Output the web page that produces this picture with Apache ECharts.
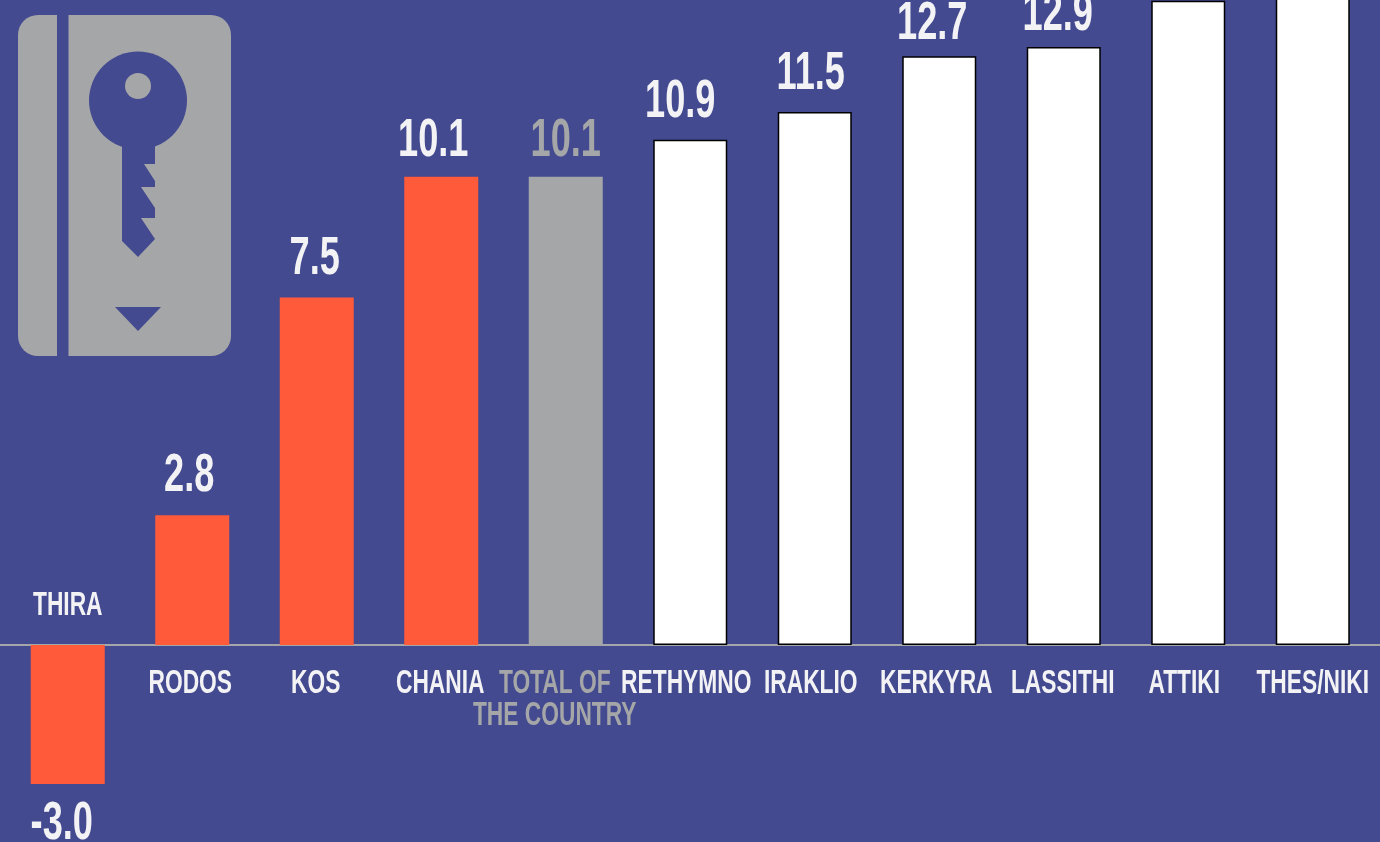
<!DOCTYPE html>
<html>
<head>
<meta charset="utf-8">
<style>
  html, body { margin: 0; padding: 0; background: #434A8F; }
  #chart { width: 1380px; height: 842px; }
</style>
<script src="https://cdn.jsdelivr.net/npm/echarts@6/dist/echarts.min.js"></script>
</head>
<body>
<div id="chart"></div>
<script>
const categories = ['THIRA', 'RODOS', 'KOS', 'CHANIA', 'TOTAL OF\nTHE COUNTRY', 'RETHYMNO', 'IRAKLIO', 'KERKYRA', 'LASSITHI', 'ATTIKI', 'THES/NIKI']
const values = [-3.0, 2.8, 7.5, 10.1, 10.1, 10.9, 11.5, 12.7, 12.9, 13.9, 14.6]
const islands = ['THIRA', 'RODOS', 'KOS', 'CHANIA']
const countryTotal = 'TOTAL OF\nTHE COUNTRY'

const BG = '#434A8F'
const ORANGE = '#FF5A3A'
const GRAY = '#A5A6A8'
const LABEL_WHITE = '#F3F3F6'
const FONT = '"Liberation Sans", Arial, sans-serif'
// the source labels sit a little off the bar centres
const NAME_SHIFT = [0, -2, -1, -1, -11, -4, -4, -3, -1, -4, 0]
const VALUE_SHIFT = [-6, -3, -2, -8, 0, -10, -4, -7, -6, 0, 0]
const VALUE_LIFT = [0, 3, 2, 0, 0, 2, 2, -4, -4, 0, 0]

function barStyle(name) {
  if (islands.includes(name)) return { color: ORANGE, borderWidth: 0 }
  if (name === countryTotal) return { color: GRAY, borderWidth: 0 }
  return { color: '#FFFFFF', borderColor: '#000000', borderWidth: 1.5 }
}

function labelColor(name) {
  return name === countryTotal ? GRAY : LABEL_WHITE
}

// no condensed face is installed, so the text is squeezed horizontally
function renderValueLabel(params, api) {
  const i = params.dataIndex
  const value = values[i]
  const pos = api.coord([i, value])
  return {
    type: 'text',
    x: pos[0] + VALUE_SHIFT[i],
    y: pos[1] + (value < 0 ? 40 : -36) - VALUE_LIFT[i],
    scaleX: 0.67,
    style: {
      text: value.toFixed(1),
      align: 'center',
      verticalAlign: 'middle',
      font: 'bold 54px ' + FONT,
      fill: labelColor(categories[i])
    }
  }
}

function renderCategoryLabel(params, api) {
  const i = params.dataIndex
  const pos = api.coord([i, 0])
  return {
    type: 'text',
    x: pos[0] + NAME_SHIFT[i],
    y: pos[1] + (i === 0 ? -55 : 23),
    scaleX: 0.69,
    style: {
      text: categories[i],
      align: 'center',
      verticalAlign: 'top',
      font: 'bold 33px ' + FONT,
      lineHeight: 32,
      fill: labelColor(categories[i])
    }
  }
}

const chart = echarts.init(document.getElementById('chart'), null, { width: 1380, height: 842 })

const option = {
  backgroundColor: BG,
  animation: false,
  // 20 units at 46.35px each, zero lands on y=645
  grid: { left: 5.5, width: 1369.5, top: -96.6, height: 927, outerBoundsMode: 'none' },
  xAxis: {
    type: 'category',
    data: categories,
    axisLine: { show: false },
    axisTick: { show: false },
    axisLabel: { show: false }
  },
  yAxis: {
    type: 'value',
    min: -4,
    max: 16,
    interval: 4,
    show: false,
    splitLine: { show: false }
  },
  series: [{
    type: 'bar',
    barWidth: 74,
    data: values.map((value, i) => ({
      value,
      itemStyle: barStyle(categories[i])
    }))
  }, {
    type: 'custom',
    silent: true,
    clip: false,
    data: values.map((value, i) => [i, value]),
    renderItem: renderValueLabel
  }, {
    type: 'custom',
    silent: true,
    clip: false,
    data: values.map((value, i) => [i, 0]),
    renderItem: renderCategoryLabel
  }]
}
chart.setOption(option)

const zeroY = chart.convertToPixel({ yAxisIndex: 0 }, 0)

chart.setOption({
  graphic: [
    { type: 'line', z: 0, shape: { x1: 0, y1: zeroY, x2: 1380, y2: zeroY }, style: { stroke: GRAY, lineWidth: 2 } },
    // key card icon
    { type: 'rect', shape: { x: 18, y: 15, width: 213, height: 341, r: 20 }, style: { fill: GRAY } },
    { type: 'rect', shape: { x: 57, y: 15, width: 11.5, height: 341 }, style: { fill: BG } },
    { type: 'circle', shape: { cx: 138, cy: 100.5, r: 49 }, style: { fill: BG } },
    { type: 'circle', z: 10, shape: { cx: 138, cy: 86, r: 13 }, style: { fill: GRAY } },
    {
      type: 'polygon',
      shape: {
        points: [[122, 140], [155, 140], [155, 164], [144, 164], [155, 181], [155, 187], [141, 187], [155, 208],
          [155, 218], [141, 218], [155, 239], [138, 257], [122, 241]]
      },
      style: { fill: BG }
    },
    { type: 'polygon', shape: { points: [[115, 307], [161, 307], [138, 331]] }, style: { fill: BG } }
  ]
})
</script>
</body>
</html>
